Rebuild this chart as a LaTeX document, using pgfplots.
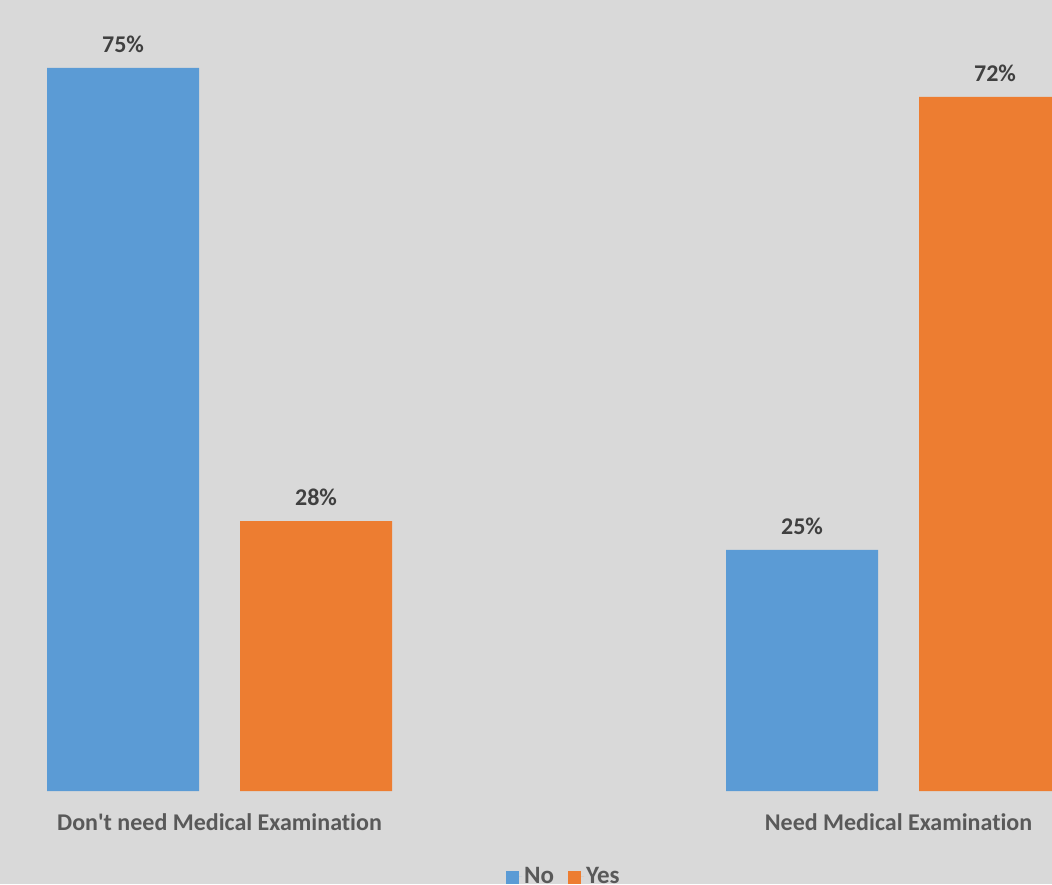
\documentclass[border=0pt]{standalone}
\usepackage{pgfplots}
\pgfplotsset{compat=1.18}
\usepackage{fontspec}
\setmainfont{Carlito}[Ligatures=NoCommon]

\definecolor{bgGray}{HTML}{D9D9D9}
\definecolor{barBlue}{HTML}{5B9BD5}
\definecolor{barOrange}{HTML}{ED7D31}
\definecolor{valText}{HTML}{404040}
\definecolor{catText}{HTML}{595959}

\begin{document}
\begin{tikzpicture}
% chart area background
\fill[bgGray] (0pt,-93pt) rectangle (1052pt,791pt);
\begin{axis}[
  at={(0pt,0pt)}, anchor=south west,
  scale only axis, width=1052pt, height=791pt,
  xmin=-0.3233, xmax=1.226, ymin=0, ymax=82.05,
  ybar=41pt, bar width=152pt,
  axis line style={draw=none},
  ytick=\empty, major tick length=0pt,
  xtick={0,1},
  xticklabels={Don\textquotesingle t need Medical Examination, Need Medical Examination},
  xticklabel style={font=\fontsize{24}{29}\selectfont\bfseries, text=catText,
                    anchor=north, yshift=-19pt},
  /pgf/number format/assume math mode=true,
  point meta=y,
  nodes near coords={\pgfmathprintnumber{\pgfplotspointmeta}\%},
  every node near coord/.append style={font=\fontsize{24}{29}\selectfont\bfseries,
                    text=valText, anchor=south, inner sep=0pt, yshift=15pt},
  legend columns=2,
  legend style={at={(0.536,-0.1075)}, anchor=center, draw=none, fill=none,
                font=\fontsize{25}{30}\selectfont\bfseries, text=catText,
                /tikz/every even column/.append style={column sep=12pt}},
  legend image code/.code={\path (0pt,0pt) -- (16pt,0pt);
                           \fill[#1] (0pt,-8pt) rectangle (13pt,5pt);},
]
\addplot[fill=barBlue, draw=none] coordinates {(0,75) (1,25)};
\addlegendentry{No}
\addplot[fill=barOrange, draw=none] coordinates {(0,28) (1,72)};
\addlegendentry{Yes}
\end{axis}
\pgfresetboundingbox
\useasboundingbox (0pt,-93pt) rectangle (1052pt,791pt);
\end{tikzpicture}
\end{document}
